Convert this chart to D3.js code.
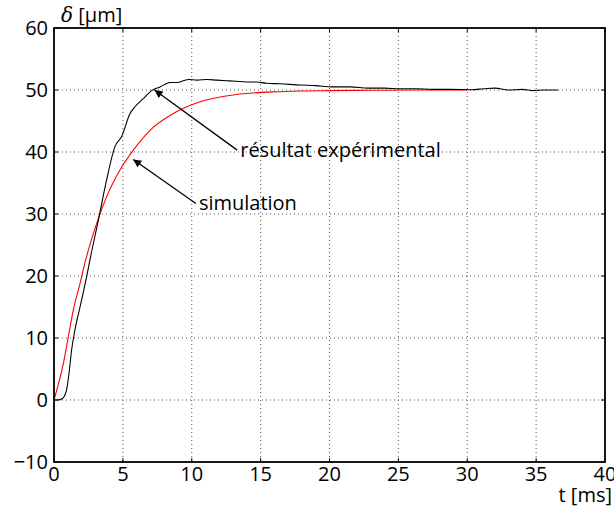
<!DOCTYPE html>
<html><head><meta charset="utf-8">
<script src="https://cdn.jsdelivr.net/npm/d3@7"></script>
<style>body{margin:0;background:#fff}text{font-family:"Open Sans",sans-serif}</style>
</head><body><svg id="c" width="614" height="507"></svg>
<script>
const xTicks = [0,5,10,15,20,25,30,35,40];
const yTicks = [-10,0,10,20,30,40,50,60];
const expT = [0,0.3,0.6,0.9,1.1,1.28,1.52,1.89,2.37,2.61,3.22,3.82,4.43,4.91,5.52,5.88,6.48,7.09,7.7,8.42,8.91,9.75,10.4,11.1,11.8,12.5,13.2,14.0,14.7,15.4,16.4,17.9,19.0,20.2,21.5,22.8,24.0,25.1,26.3,27.5,28.8,30.3,31.2,32.0,33.0,34.0,34.8,35.5,36.6];
const expY = [0,0,0.2,1.5,4.5,8.1,11.3,15,19.9,22.6,29,35.5,40.9,42.5,46.2,47.3,48.6,49.9,50.5,51.2,51.2,51.7,51.6,51.7,51.6,51.5,51.4,51.3,51.3,51.1,51.0,50.8,50.7,50.5,50.5,50.3,50.3,50.2,50.2,50.1,50.1,50.05,50.2,50.3,50.0,50.1,49.9,50.0,50.0];
const simT = [0,0.68,1.04,1.4,1.89,2.3,3.1,3.82,4.79,5.76,6.97,8.66,10.6,13.0,15.9,17.9,20,23,26,30];
const simY = [0,5.9,10.2,14.5,18.8,22.6,28.5,32.8,37.1,40.3,43.5,46.2,48.1,49.2,49.7,49.85,49.9,49.95,50,50];
const annotations = [
  {label:"résultat expérimental", tx:13.3, ty:40.3, hx:7.3, hy:50.0},
  {label:"simulation", tx:10.3, ty:31.7, hx:5.75, hy:38.8}
];

const svg = d3.select("#c");
const L=54, R=605, T=28, B=462;
const FS=20;
const x = d3.scaleLinear().domain([0,40]).range([L,R]);
const y = d3.scaleLinear().domain([-10,60]).range([B,T]);

const defs = svg.append("defs");
defs.append("marker").attr("id","ah").attr("viewBox","0 0 10 10").attr("refX",10).attr("refY",5)
  .attr("markerWidth",11).attr("markerHeight",8).attr("markerUnits","userSpaceOnUse").attr("orient","auto")
  .append("path").attr("d","M0,0 L10,5 L0,10 z").attr("fill","#000");

// grid
const g = svg.append("g");
g.selectAll(".vg").data(xTicks.slice(1,-1)).join("line")
  .attr("x1",d=>x(d)).attr("x2",d=>x(d)).attr("y1",T).attr("y2",B)
  .attr("stroke","#555").attr("stroke-width",1).attr("stroke-dasharray","1,3");
g.selectAll(".hg").data(yTicks.slice(1,-1)).join("line")
  .attr("y1",d=>y(d)).attr("y2",d=>y(d)).attr("x1",L).attr("x2",R)
  .attr("stroke","#555").attr("stroke-width",1).attr("stroke-dasharray","1,3");

// curves
const line = d3.line().x(d=>x(d[0])).y(d=>y(d[1])).curve(d3.curveMonotoneX);
svg.append("path").datum(simT.map((t,i)=>[t,simY[i]])).attr("d",line)
  .attr("fill","none").attr("stroke","#ff0000").attr("stroke-width",1.1);
svg.append("path").datum(expT.map((t,i)=>[t,expY[i]])).attr("d",line)
  .attr("fill","none").attr("stroke","#000").attr("stroke-width",1.1);

// ticks inside
const tl=4;
xTicks.forEach(t=>{
  svg.append("line").attr("x1",x(t)).attr("x2",x(t)).attr("y1",B).attr("y2",B-tl).attr("stroke","#000");
  svg.append("line").attr("x1",x(t)).attr("x2",x(t)).attr("y1",T).attr("y2",T+tl).attr("stroke","#000");
});
yTicks.forEach(t=>{
  svg.append("line").attr("y1",y(t)).attr("y2",y(t)).attr("x1",L).attr("x2",L+tl).attr("stroke","#000");
  svg.append("line").attr("y1",y(t)).attr("y2",y(t)).attr("x1",R).attr("x2",R-tl).attr("stroke","#000");
});

// frame
svg.append("rect").attr("x",L).attr("y",T).attr("width",R-L).attr("height",B-T)
  .attr("fill","none").attr("stroke","#000").attr("stroke-width",1.8);

// tick labels
svg.selectAll(".xl").data(xTicks).join("text").attr("x",d=>x(d)).attr("y",B+19)
  .attr("text-anchor","middle").attr("font-size",FS).text(d=>d);
svg.selectAll(".yl").data(yTicks).join("text").attr("x",L-6).attr("y",d=>y(d)+7)
  .attr("text-anchor","end").attr("font-size",FS).text(d=>d<0?"\u2212"+(-d):d);

// axis titles
svg.append("text").attr("x",612).attr("y",502).attr("text-anchor","end").attr("font-size",FS).text("t [ms]");
const yt = svg.append("text").attr("x",61).attr("y",22).attr("font-size",FS);
yt.append("tspan").attr("font-style","italic").attr("font-family","DejaVu Serif").attr("font-size",20).text("δ");
yt.append("tspan").text(" [μm]");

// annotations
annotations.forEach(a=>{
  svg.append("line").attr("x1",x(a.tx)).attr("y1",y(a.ty)).attr("x2",x(a.hx)).attr("y2",y(a.hy))
    .attr("stroke","#000").attr("stroke-width",1.3).attr("marker-end","url(#ah)");
  svg.append("text").attr("x",x(a.tx)+3).attr("y",y(a.ty)+7).attr("font-size",FS).text(a.label);
});
</script></body></html>
